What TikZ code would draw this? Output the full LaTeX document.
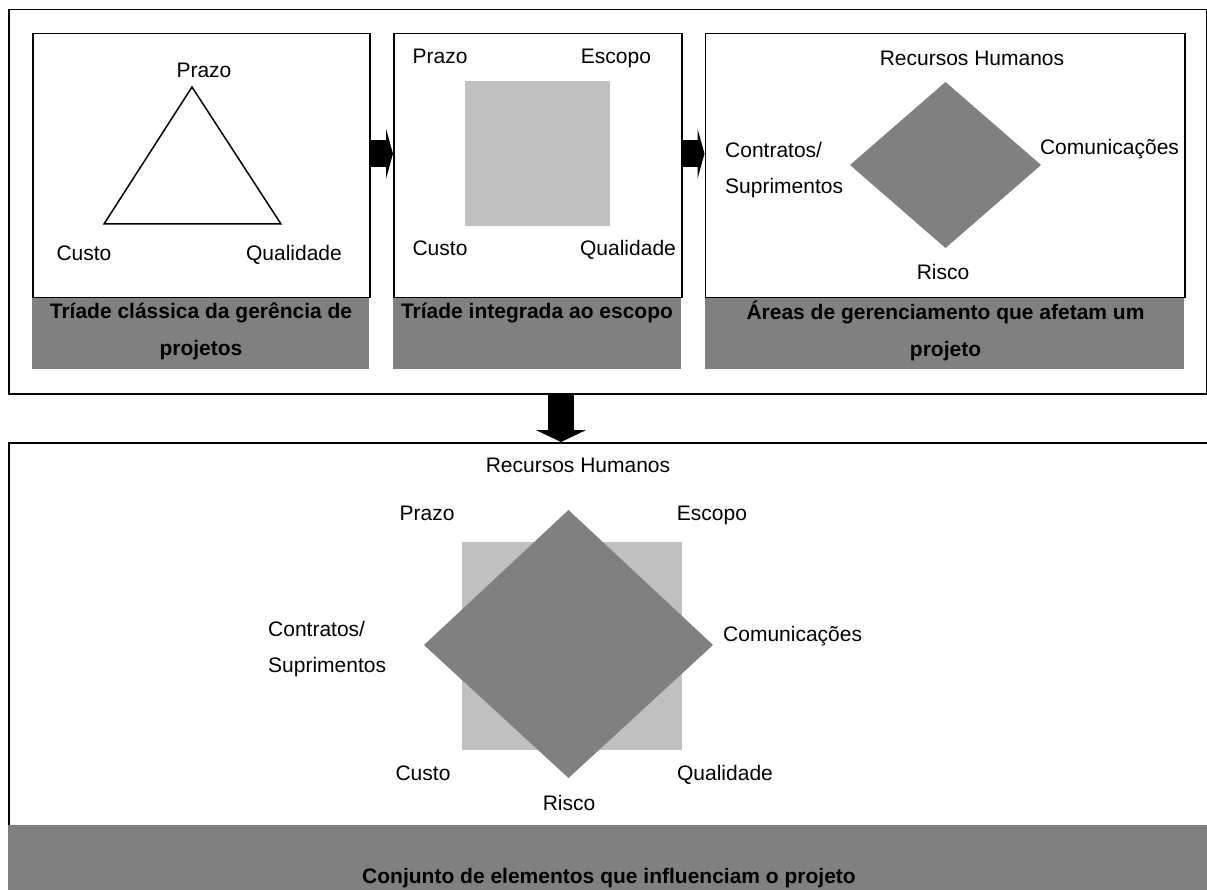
\documentclass[tikz,border=0pt]{standalone}
\usepackage{fontspec}
\setmainfont{Liberation Sans}
\usetikzlibrary{arrows.meta,calc}
\definecolor{bandgray}{RGB}{128,128,128}
\definecolor{sqgray}{RGB}{192,192,192}
\begin{document}
\begin{tikzpicture}[x=1pt,y=-1pt,
  frame/.style={draw=black,line width=1.5pt,inner sep=0pt,anchor=north west},
  lbl/.style={font=\fontsize{21}{25}\selectfont,inner sep=0pt,text height=15pt,text depth=0pt},
  twolines/.style={font=\fontsize{21}{36}\selectfont,inner sep=0pt,align=left,anchor=west},
  captiontext/.style={font=\bfseries\fontsize{21}{37}\selectfont,inner sep=0pt,align=center},
  bigarrow/.style={line width=27pt,-{Triangle[length=7pt,width=50pt]}},
  downarrow/.style={line width=26pt,-{Triangle[length=12pt,width=50pt]}}
]
\useasboundingbox (0,0) rectangle (1207,890);
\clip (0,0) rectangle (1207,890);
\fill[white] (0,0) rectangle (1207,890);

% outer frames
\node[frame,minimum width=1197.5pt,minimum height=384pt] (top) at (8,9) {};
\node[frame,minimum width=1210pt,minimum height=384pt] (bot) at (8,442) {};
\fill[bandgray] (8,824.5) rectangle (1207,890);

% caption bands under the three panels
\fill[bandgray] (32,297) rectangle (369,369);
\fill[bandgray] (393,297) rectangle (681,369);
\fill[bandgray] (704.5,297) rectangle (1184,369);

% panels
\node[frame,fill=white,minimum width=337pt,minimum height=264pt] (p1) at (32,33) {};
\node[frame,fill=white,minimum width=288pt,minimum height=264pt] (p2) at (393,33) {};
\node[frame,fill=white,minimum width=479.5pt,minimum height=264pt] (p3) at (704.5,33) {};

% panel 1: classic triad
\draw[line width=1.5pt,line join=miter] (192,87) -- (104,224) -- (281,224) -- cycle;
\node[lbl] (p1prazo) at (204,70) {Prazo};
\node[lbl] (p1custo) at (84,253) {Custo};
\node[lbl] (p1qual) at (294,253) {Qualidade};
\node[captiontext] (p1cap) at (201,331) {Tríade clássica da gerência de\\projetos};

% panel 2: triad with scope
\fill[sqgray] (465,81) rectangle (610,226);
\node[lbl] (p2prazo) at (440,56) {Prazo};
\node[lbl] (p2escopo) at (616,56) {Escopo};
\node[lbl] (p2custo) at (440,248) {Custo};
\node[lbl] (p2qual) at (628,248) {Qualidade};
\node[captiontext] (p2cap) at (537,313) {Tríade integrada ao escopo};

% panel 3: management areas
\fill[bandgray] (945.5,82) -- (1041,165) -- (945.5,248) -- (850,165) -- cycle;
\node[lbl] (p3rh) at (972,58) {Recursos Humanos};
\node[twolines] (p3cs) at (725,170) {Contratos/\\Suprimentos};
\node[lbl] (p3com) at (1109.5,147) {Comunicações};
\node[lbl] (p3risco) at (943,272) {Risco};
\node[captiontext] (p3cap) at (945.5,330.5) {Áreas de gerenciamento que afetam um\\projeto};

% arrows between panels
\draw[bigarrow] ($(p1.east)+(0,-12)$) -- ($(p2.west)+(0,-12)$);
\draw[bigarrow] ($(p2.east)+(0,-12)$) -- ($(p3.west)+(0,-12)$);

% arrow down to the combined view
\coordinate (dtop) at (561,393);
\coordinate (dbot) at (561,442);
\draw[downarrow] (dtop) -- (dbot);

% combined view
\fill[sqgray] (462,542) rectangle (682,750);
\fill[bandgray] (568.5,510) -- (713,645) -- (568.5,778) -- (424,645) -- cycle;
\node[lbl] (brh) at (578,465) {Recursos Humanos};
\node[lbl] (bprazo) at (427,513) {Prazo};
\node[lbl] (bescopo) at (712,513) {Escopo};
\node[twolines] (bcs) at (268,649.5) {Contratos/\\Suprimentos};
\node[lbl,anchor=west] (bcom) at (723,634) {Comunicações};
\node[lbl] (bcusto) at (423,773) {Custo};
\node[lbl] (bqual) at (725,773) {Qualidade};
\node[lbl] (brisco) at (569,803) {Risco};
\node[captiontext] (bcap) at (609,878) {Conjunto de elementos que influenciam o projeto};
\end{tikzpicture}
\end{document}
